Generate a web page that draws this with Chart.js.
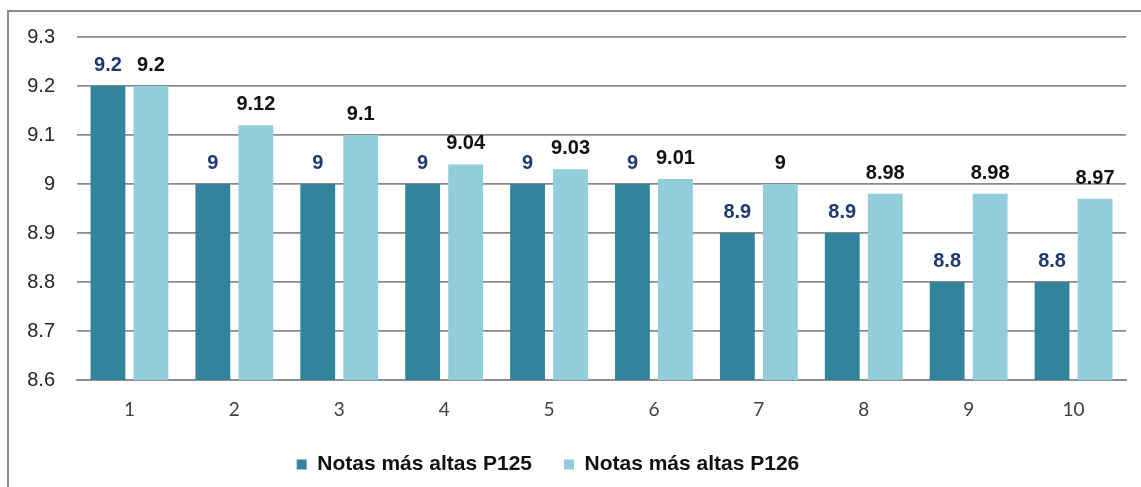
<!DOCTYPE html>
<html>
<head>
<meta charset="utf-8">
<script src="https://cdn.jsdelivr.net/npm/chart.js@4"></script>
<style>
  html, body { margin: 0; padding: 0; background: #fff; }
  #wrap { position: relative; width: 1141px; height: 487px; overflow: hidden; }
  #frame { position: absolute; left: 7px; top: 10px; width: 1150px; height: 500px;
           border: 2px solid #8c8c8c; box-sizing: border-box; }
  canvas { position: absolute; left: 0; top: 0; }
</style>
</head>
<body>
<div id="wrap">
  <div id="frame"></div>
  <canvas id="grafico" width="1141" height="487"></canvas>
</div>
<script>
// Datos del gráfico
const categorias = ['1', '2', '3', '4', '5', '6', '7', '8', '9', '10'];
const notasP125 = [9.2, 9, 9, 9, 9, 9, 8.9, 8.9, 8.8, 8.8];
const notasP126 = [9.2, 9.12, 9.1, 9.04, 9.03, 9.01, 9, 8.98, 8.98, 8.97];
const ticksY = [8.6, 8.7, 8.8, 8.9, 9, 9.1, 9.2, 9.3];

// Etiquetas encima de cada barra (no hay plugin datalabels, lo hacemos a mano)
const etiquetas = {
    id: 'etiquetas',
    afterDatasetsDraw(chart) {
        const ctx = chart.ctx;
        const coloresTexto = ['#1f3a6e', '#111111'];
        chart.data.datasets.forEach((ds, i) => {
            const meta = chart.getDatasetMeta(i);
            meta.data.forEach((bar, j) => {
                ctx.save();
                ctx.font = 'bold 20px "Liberation Sans", Arial, sans-serif';
                ctx.fillStyle = coloresTexto[i];
                ctx.textAlign = 'center';
                ctx.textBaseline = 'alphabetic';
                ctx.fillText(String(ds.data[j]), bar.x, bar.y - 15);
                ctx.restore();
            });
        });
    }
};

// La leyenda del original está un poco a la izquierda del centro
const moverLeyenda = {
    id: 'moverLeyenda',
    afterLayout(chart) {
        chart.legend.left -= 15;
        chart.legend.right -= 15;
    }
};

new Chart(document.getElementById('grafico'), {
    type: 'bar',
    data: {
        labels: categorias,
        datasets: [{
            label: 'Notas más altas P125',
            data: notasP125,
            backgroundColor: '#31849b',
            borderWidth: 0,
            barPercentage: 0.81,
            categoryPercentage: 0.82
        }, {
            label: 'Notas más altas P126',
            data: notasP126,
            backgroundColor: '#92cddc',
            borderWidth: 0,
            barPercentage: 0.81,
            categoryPercentage: 0.82
        }]
    },
    options: {
        responsive: false,
        animation: false,
        layout: { padding: { top: 37, right: 15, bottom: 2, left: 0 } },
        scales: {
            y: {
                min: 8.6,
                max: 9.3,
                afterBuildTicks: scale => {
                    scale.ticks = ticksY.map(v => ({ value: v }));
                },
                afterFit: scale => { scale.width = 77; },
                grid: { color: '#8a8a8a', lineWidth: 1.8, drawTicks: false },
                border: { display: false },
                ticks: {
                    padding: 22,
                    color: '#262626',
                    font: { family: '"Liberation Sans", Arial, sans-serif', size: 20 },
                    callback: v => String(Math.round(v * 10) / 10)
                }
            },
            x: {
                afterFit: scale => { scale.height = 42; },
                grid: { display: false },
                border: { color: '#8a8a8a', width: 1.8 },
                ticks: {
                    padding: 10,
                    color: '#404040',
                    font: { family: 'Lato, "Open Sans", sans-serif', size: 19 }
                }
            }
        },
        plugins: {
            legend: {
                position: 'bottom',
                labels: {
                    boxWidth: 10,
                    boxHeight: 10,
                    padding: 32,
                    color: '#111',
                    font: { family: '"Liberation Sans", Arial, sans-serif', size: 21, weight: 'bold' }
                }
            },
            tooltip: { enabled: false }
        }
    },
    plugins: [etiquetas, moverLeyenda]
});
</script>
</body>
</html>
